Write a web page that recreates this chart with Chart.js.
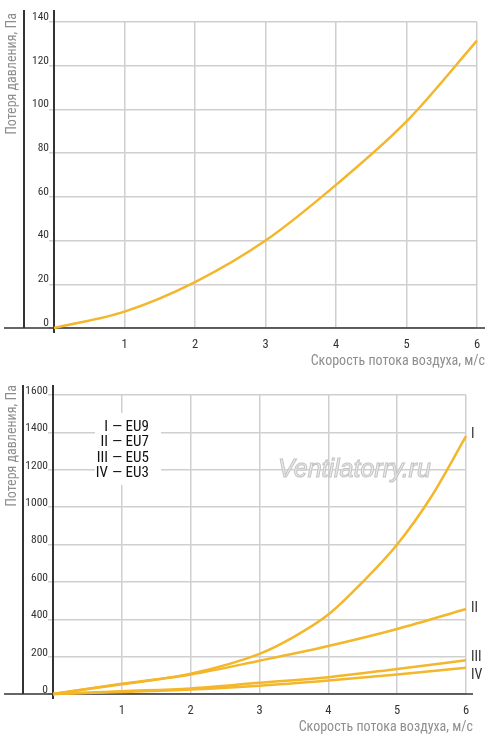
<!DOCTYPE html>
<html lang="ru">
<head>
<meta charset="utf-8">
<script src="https://cdn.jsdelivr.net/npm/chart.js@4.4.1/dist/chart.umd.min.js"></script>
<style>
  html, body { margin: 0; padding: 0; background: #fff; }
  canvas { display: block; }
</style>
</head>
<body>
<canvas id="chartTop" width="500" height="370" style="width:500px;height:370px"></canvas>
<canvas id="chartBottom" width="500" height="371" style="width:500px;height:371px"></canvas>
<script>
// Верхний график: один фильтр
const speedTop = [0, 1, 2, 3, 4, 5, 6];
const lossTop = [0, 7.5, 21, 40, 65.5, 94.5, 131.5];
const yTicksTop = [0, 20, 40, 60, 80, 100, 120, 140];

// Нижний график: классы фильтров
const speedEU9 = [0, 1, 2, 3, 3.5, 4, 4.5, 5, 5.5, 6];
const lossEU9 = [0, 55, 109, 215, 306, 425, 600, 800, 1058, 1380];
const speedOther = [0, 1, 2, 3, 4, 5, 6];
const lossEU7 = [0, 52, 104, 178, 257, 348, 455];
const lossEU5 = [0, 15, 30, 60, 90, 134, 180];
const lossEU3 = [0, 11, 24, 44, 72, 104, 140];
const yTicksBottom = [0, 200, 400, 600, 800, 1000, 1200, 1400, 1600];
const xTicks = [1, 2, 3, 4, 5, 6];

const legendRoman = ["I", "II", "III", "IV"];
const legendClass = ["EU9", "EU7", "EU5", "EU3"];

const FONT = "'Roboto Condensed', 'PT Sans Narrow', 'Liberation Sans Narrow', sans-serif";
const LINE_COLOR = "rgb(244, 182, 42)";
const GRID_COLOR = "#cfcfcf";
const TITLE_Y = "Потеря давления, Па";
const TITLE_X = "Скорость потока воздуха, м/с";

Chart.defaults.font.family = FONT;
Chart.defaults.color = "#333";

function toPoints(xs, ys) {
    return xs.map((x, i) => ({ x: x, y: ys[i] }));
}

function line(ctx, x1, y1, x2, y2) {
    ctx.beginPath();
    ctx.moveTo(x1, y1);
    ctx.lineTo(x2, y2);
    ctx.stroke();
}

// Оси, подписи осей и прочие надписи поверх сетки
function decorPlugin(cfg) {
    return {
        id: "decor",
        beforeDatasetsDraw(chart) {
            const ctx = chart.ctx;
            const a = chart.chartArea;
            ctx.save();
            ctx.strokeStyle = "#333";
            ctx.lineWidth = 2;
            line(ctx, cfg.frameX, cfg.lineTop, cfg.frameX, a.bottom);
            line(ctx, a.left, cfg.lineTop, a.left, a.bottom + 5);
            ctx.lineWidth = 1.6;
            line(ctx, 4, a.bottom, cfg.axisEnd, a.bottom);

            ctx.fillStyle = "#8e8e8e";
            ctx.font = "14px " + FONT;
            ctx.textAlign = "right";
            ctx.textBaseline = "middle";
            ctx.fillText(TITLE_X, cfg.axisEnd, cfg.xTitleY);

            ctx.save();
            ctx.translate(12, cfg.yTitleY);
            ctx.rotate(-Math.PI / 2);
            ctx.textAlign = "center";
            ctx.fillText(TITLE_Y, 0, 0);
            ctx.restore();

            if (cfg.extra) cfg.extra(ctx, chart);
            ctx.restore();
        }
    };
}

function makeOptions(yTicks, yMax, sizes) {
    return {
        responsive: false,
        animation: false,
        devicePixelRatio: 1,
        layout: { padding: { left: 0, right: sizes.right, top: sizes.top, bottom: 0 } },
        plugins: { legend: { display: false }, tooltip: { enabled: false } },
        scales: {
            x: {
                type: "linear",
                min: 0,
                max: 6,
                afterFit: s => { s.height = sizes.xHeight; },
                afterBuildTicks: s => { s.ticks = [0].concat(xTicks).map(v => ({ value: v })); },
                border: { display: false },
                grid: { color: GRID_COLOR, lineWidth: 1.5, drawTicks: false },
                ticks: {
                    padding: 9,
                    font: { size: 12.5 },
                    color: "#333",
                    callback: v => (v === 0 ? "" : String(v))
                }
            },
            y: {
                min: 0,
                max: yMax,
                afterFit: s => { s.width = sizes.left; },
                afterBuildTicks: s => { s.ticks = yTicks.map(v => ({ value: v })); },
                border: { display: false },
                grid: { color: GRID_COLOR, lineWidth: 1.5, tickLength: 5 },
                ticks: {
                    padding: 0,
                    labelOffset: sizes.labelOffset,
                    font: { size: 11.5 },
                    color: "#333",
                    callback: v => String(v)
                }
            }
        }
    };
}

function seriesStyle(data) {
    return {
        data: data,
        borderColor: LINE_COLOR,
        borderWidth: 2.5,
        pointRadius: 0,
        fill: false,
        clip: false,
        cubicInterpolationMode: "monotone"
    };
}

// Верхний график
new Chart(document.getElementById("chartTop"), {
    type: "line",
    data: { datasets: [seriesStyle(toPoints(speedTop, lossTop))] },
    options: makeOptions(yTicksTop, 140, { left: 54, right: 23, top: 22, xHeight: 42, labelOffset: -5 }),
    plugins: [decorPlugin({ frameX: 24, lineTop: 10, axisEnd: 485, xTitleY: 361, yTitleY: 74 })]
});

// Нижний график
const bottomExtra = (ctx, chart) => {
    // водяной знак
    ctx.font = "italic 25px 'Liberation Sans', sans-serif";
    ctx.textAlign = "left";
    ctx.textBaseline = "middle";
    ctx.lineWidth = 1;
    ctx.fillStyle = "#ececec";
    ctx.strokeStyle = "#c4c4c4";
    ctx.fillText("Ventilatorry.ru", 278, 100);
    ctx.strokeText("Ventilatorry.ru", 278, 100);

    // легенда
    ctx.fillStyle = "#fff";
    ctx.fillRect(95, 43, 66, 72);
    ctx.fillStyle = "#111";
    ctx.font = "15px " + FONT;
    const rows = [57, 72, 88, 103];
    legendRoman.forEach((r, i) => {
        ctx.textAlign = "right";
        ctx.fillText(r, 108, rows[i]);
        ctx.textAlign = "left";
        ctx.fillText("— " + legendClass[i], 112, rows[i]);
    });

    // номера кривых
    const ys = chart.scales.y;
    const ends = [lossEU9[lossEU9.length - 1], lossEU7[6], lossEU5[6], lossEU3[6]];
    const shift = [-2, 0, -3, 8];
    ctx.fillStyle = "#333";
    ctx.font = "14px " + FONT;
    ctx.textAlign = "left";
    ends.forEach((v, i) => {
        ctx.fillText(legendRoman[i], 471, ys.getPixelForValue(v) + shift[i]);
    });
};

new Chart(document.getElementById("chartBottom"), {
    type: "line",
    data: {
        datasets: [
            seriesStyle(toPoints(speedEU9, lossEU9)),
            seriesStyle(toPoints(speedOther, lossEU7)),
            seriesStyle(toPoints(speedOther, lossEU5)),
            seriesStyle(toPoints(speedOther, lossEU3))
        ]
    },
    options: makeOptions(yTicksBottom, 1600, { left: 53, right: 34, top: 25, xHeight: 47, labelOffset: -4 }),
    plugins: [decorPlugin({ frameX: 23, lineTop: 15, axisEnd: 473, xTitleY: 357, yTitleY: 76, extra: bottomExtra })]
});
</script>
</body>
</html>
